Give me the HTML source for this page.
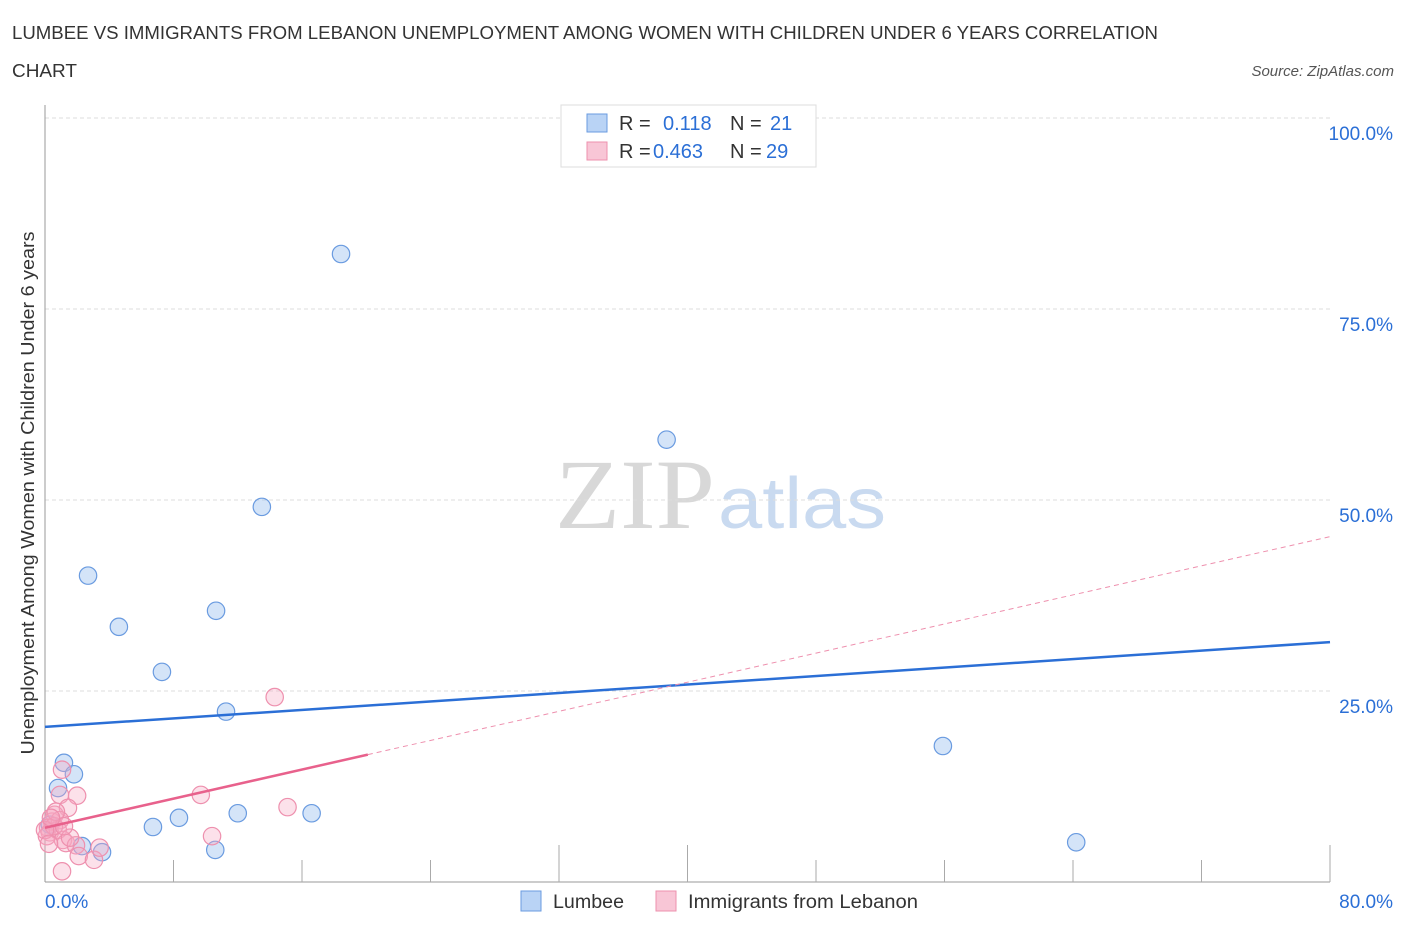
<!DOCTYPE html>
<html><head><meta charset="utf-8"><style>
body{margin:0;background:#fff;}
</style></head><body>
<svg id="c" width="1406" height="930" xmlns="http://www.w3.org/2000/svg" font-family="Liberation Sans, sans-serif">
<text x="12" y="39" font-size="18" fill="#333" textLength="1146" lengthAdjust="spacingAndGlyphs">LUMBEE VS IMMIGRANTS FROM LEBANON UNEMPLOYMENT AMONG WOMEN WITH CHILDREN UNDER 6 YEARS CORRELATION</text>
<text x="12" y="77" font-size="18" fill="#333" textLength="65" lengthAdjust="spacingAndGlyphs">CHART</text>
<text x="1394" y="76" font-size="15" font-style="italic" fill="#555" text-anchor="end">Source: ZipAtlas.com</text>
<text x="555" y="528" font-size="100" style="font-family:'Liberation Serif',serif" fill="#d8d8d8" textLength="160" lengthAdjust="spacingAndGlyphs">ZIP</text>
<text x="718" y="528" font-size="72" fill="#c9daf0" textLength="168" lengthAdjust="spacingAndGlyphs">atlas</text>
<g id="grid"></g>
<g id="axes"></g>
<g id="marks"></g>
<text transform="translate(34,493) rotate(-90)" font-size="18" fill="#333" text-anchor="middle" textLength="523" lengthAdjust="spacingAndGlyphs">Unemployment Among Women with Children Under 6 years</text>
<g>
<rect x="561" y="105" width="255" height="62" fill="#fff" stroke="#ddd"/>
<rect x="587" y="114" width="20" height="18" fill="#b9d3f5" stroke="#6a9be0"/>
<text x="619" y="130" font-size="20" fill="#333">R = </text><text x="663" y="130" font-size="20" fill="#2b6fd6">0.118</text>
<text x="730" y="130" font-size="20" fill="#333">N = </text><text x="770" y="130" font-size="20" fill="#2b6fd6">21</text>
<rect x="587" y="142" width="20" height="18" fill="#f8c6d6" stroke="#ee90ae"/>
<text x="619" y="158" font-size="20" fill="#333">R = </text><text x="653" y="158" font-size="20" fill="#2b6fd6">0.463</text>
<text x="730" y="158" font-size="20" fill="#333">N = </text><text x="766" y="158" font-size="20" fill="#2b6fd6">29</text>
</g>
<g>
<rect x="521" y="891" width="20" height="20" fill="#b9d3f5" stroke="#6a9be0"/>
<text x="553" y="908" font-size="19" fill="#333" textLength="71" lengthAdjust="spacingAndGlyphs">Lumbee</text>
<rect x="656" y="891" width="20" height="20" fill="#f8c6d6" stroke="#ee90ae"/>
<text x="688" y="908" font-size="19" fill="#333" textLength="230" lengthAdjust="spacingAndGlyphs">Immigrants from Lebanon</text>
</g>
</svg>
<script>
const yTicks=[25,50,75,100];
const yTickLabels=["25.0%","50.0%","75.0%","100.0%"];
const lumbeeX=[18.43,38.7,13.5,2.68,10.65,4.6,7.28,11.27,55.9,1.18,1.8,0.81,6.72,8.34,12.0,16.6,64.2,10.6,2.3,3.55,0.3];
const lumbeeY=[82.2,57.9,49.1,40.1,35.5,33.4,27.5,22.3,17.8,15.6,14.1,12.3,7.2,8.4,9.0,9.0,5.2,4.2,4.7,3.9,7.5];
const lebX=[14.3,9.7,15.1,10.4,1.06,0.93,2.0,1.43,0.6,0.44,0.19,0.3,0.12,0.93,0.8,1.12,1.3,1.93,2.1,3.05,3.4,1.06,0.56,0.0,1.56,0.68,1.18,0.37,0.25];
const lebY=[24.2,11.4,9.8,6.0,14.7,11.4,11.3,9.7,8.8,7.9,7.1,6.5,6.0,8.1,6.8,5.5,5.1,4.8,3.4,2.9,4.5,1.4,7.3,6.8,5.8,9.2,7.3,8.4,5.0];
const lumbeeTrend=[20.3,31.4];
const lebTrend=[7.1,45.2];
const lebSolidEnd=20.1;
const NS="http://www.w3.org/2000/svg";
const sx=v=>45+v/80*1285, sy=v=>882-v/100*764;
function mk(t,a,p){const e=document.createElementNS(NS,t);for(const k in a)e.setAttribute(k,a[k]);p.appendChild(e);return e;}
const grid=document.getElementById('grid'),axes=document.getElementById('axes'),marks=document.getElementById('marks');
yTicks.forEach((v,i)=>{
 const l=mk('line',{x1:45,x2:1330,y1:sy(v),y2:sy(v),stroke:'#ddd','stroke-dasharray':'4,3'},grid);
 
 
 const t=mk('text',{x:1393,y:sy(v)+22,'font-size':19,fill:'#2b6fd6','text-anchor':'end'},grid);
 t.textContent=yTickLabels[i];
 
 
});
const ax=mk('line',{x1:45,x2:45,y1:105,y2:882,stroke:'#999'},axes);


const bx=mk('line',{x1:45,x2:1330,y1:882,y2:882,stroke:'#999'},axes);


for(let i=1;i<=10;i++){const x=sx(i*8);const h=(i==4||i==5||i==10)?37:22;
 const tk=mk('line',{x1:x,x2:x,y1:882-h,y2:882,stroke:'#aaa'},axes);
 
 }
const x0=mk('text',{x:45,y:908,'font-size':19,fill:'#2b6fd6'},axes);x0.textContent='0.0%';


const x1=mk('text',{x:1393,y:908,'font-size':19,fill:'#2b6fd6','text-anchor':'end'},axes);x1.textContent='80.0%';


lumbeeX.forEach((v,i)=>{const c=mk('circle',{cx:sx(v),cy:sy(lumbeeY[i]),r:8.7,fill:'rgba(160,195,240,0.45)',stroke:'#6a9be0','stroke-width':1.2},marks);
 
 });
lebX.forEach((v,i)=>{const c=mk('circle',{cx:sx(v),cy:sy(lebY[i]),r:8.7,fill:'rgba(245,170,195,0.35)',stroke:'#ee90ae','stroke-width':1.2},marks);
 
 });
const lt=mk('line',{x1:sx(0),y1:sy(lumbeeTrend[0]),x2:sx(80),y2:sy(lumbeeTrend[1]),stroke:'#2b6fd6','stroke-width':2.5},marks);


const ly=v=>lebTrend[0]+(lebTrend[1]-lebTrend[0])*v/80;
const pd=mk('line',{x1:sx(lebSolidEnd),y1:sy(ly(lebSolidEnd)),x2:sx(80),y2:sy(lebTrend[1]),stroke:'#ee90ae','stroke-width':1,'stroke-dasharray':'5,4'},marks);


const ps=mk('line',{x1:sx(0),y1:sy(lebTrend[0]),x2:sx(lebSolidEnd),y2:sy(ly(lebSolidEnd)),stroke:'#e8618c','stroke-width':2.5},marks);


</script>
</body></html>
